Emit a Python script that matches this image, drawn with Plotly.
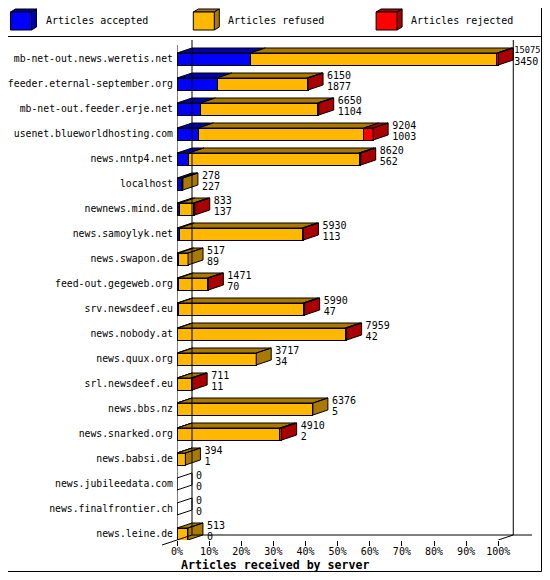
import plotly.graph_objects as go

# innreport style "articles received by server" chart
servers = [
    "mb-net-out.news.weretis.net", "feeder.eternal-september.org",
    "mb-net-out.feeder.erje.net", "usenet.blueworldhosting.com",
    "news.nntp4.net", "localhost", "newnews.mind.de", "news.samoylyk.net",
    "news.swapon.de", "feed-out.gegeweb.org", "srv.newsdeef.eu",
    "news.nobody.at", "news.quux.org", "srl.newsdeef.eu", "news.bbs.nz",
    "news.snarked.org", "news.babsi.de", "news.jubileedata.com",
    "news.finalfrontier.ch", "news.leine.de",
]
offered = [15075, 6150, 6650, 9204, 8620, 278, 833, 5930, 517, 1471,
           5990, 7959, 3717, 711, 6376, 4910, 394, 0, 0, 513]
accepted = [3450, 1877, 1104, 1003, 562, 227, 137, 113, 89, 70,
            47, 42, 34, 11, 5, 2, 1, 0, 0, 0]
# refused / rejected
refused = [11565, 4223, 5496, 7761, 7978, 51, 636, 5767, 428, 1361,
           5873, 7857, 3683, 655, 6371, 4828, 393, 0, 0, 513]
rejected = [60, 50, 50, 440, 80, 0, 60, 50, 0, 40,
            70, 60, 0, 45, 0, 80, 0, 0, 0, 0]
tick_pct = [0, 10, 20, 30, 40, 50, 60, 70, 80, 90, 100]

series = [
    ("Articles accepted", accepted, "#0000ff", "#0000aa"),
    ("Articles refused", refused, "#ffb700", "#aa7a00"),
    ("Articles rejected", rejected, "#ff0000", "#aa0000"),
]

FONT = "DejaVu Sans Mono"
CHAR = 0.602                 # advance of the mono font, in em
OFF = 8                      # the page body margin pushes the figure 8px right/down
VIS_R = 540.5                # right end of what shows of the page
W, H = 550 - OFF, 580 - 2 * OFF   # keep the page from scrolling
L, R, T = 177 - OFF, 18, 40 - OFF
B = H - (540 - OFF)          # plot floor sits at y=540 on the page
XMAX = 110.5
n = len(servers)
px_x = (W - L - R) / XMAX          # pixels per percent
px_y = (H - T - B) / n             # pixels per row
DX = 15 / px_x                     # 3d depth
DY = 5 / px_y
HALF = 0.24
YBOT = n - 1 + HALF
YTOP = -0.76
rows = list(range(n))
biggest = max(offered)


def pct(v):
    return v * 100.0 / biggest


# page pixel -> paper coords
def xp(px):
    return (px - OFF - L) / (W - L - R)


def yp(py):
    return (H - B - (py - OFF)) / (H - T - B)


fig = go.Figure()

# front faces
for name, vals, color, dark in series:
    fig.add_trace(go.Bar(y=rows, x=[pct(v) for v in vals], orientation="h",
                         width=2 * HALF, name=name, showlegend=False,
                         marker=dict(color=color, line=dict(color="black", width=1)),
                         hoverinfo="skip"))

# top and side faces of the 3d bars
faces = {}
for i in rows:
    left = 0.0
    last = None
    top = i - HALF
    bot = i + HALF
    for name, vals, color, dark in series:
        w = pct(vals[i])
        if w <= 0:
            continue
        right = left + w
        xs, ys = faces.setdefault(dark, ([], []))
        xs += [left, right, right + DX, left + DX, left, None]
        ys += [top, top, top - DY, top - DY, top, None]
        left = right
        last = dark
    xs, ys = faces.setdefault(last or "white", ([], []))
    xs += [left, left + DX, left + DX, left, left, None]
    ys += [top, top - DY, bot - DY, bot, top, None]

for color, (xs, ys) in faces.items():
    fig.add_trace(go.Scatter(x=xs, y=ys, mode="lines", fill="toself",
                             fillcolor=color, line=dict(color="black", width=1),
                             showlegend=False, hoverinfo="skip"))

# value labels: offered on top, accepted below
# (a label that would run off the visible page is tucked in and shrunk)
label_x, top_size = [], []
for v in offered:
    start = OFF + L + (pct(v) + DX) * px_x + 4
    size = 10
    if start + len(str(v)) * CHAR * size > VIS_R:
        start -= 3
        size = (VIS_R - start) / (len(str(v)) * CHAR)
    label_x.append((start - OFF - L) / px_x)
    top_size.append(size)

fig.add_trace(go.Scatter(x=label_x, y=[i - 0.32 for i in rows], text=[str(v) for v in offered],
                         mode="text", textposition="middle right", cliponaxis=False,
                         textfont=dict(family=FONT, size=top_size, color="black"),
                         showlegend=False, hoverinfo="skip"))
fig.add_trace(go.Scatter(x=label_x, y=[i + 0.12 for i in rows], text=[str(v) for v in accepted],
                         mode="text", textposition="middle right", cliponaxis=False,
                         textfont=dict(family=FONT, size=10, color="black"),
                         showlegend=False, hoverinfo="skip"))

shapes = []
line = dict(color="black", width=1)
# 3d frame
shapes.append(dict(type="line", xref="x", yref="y", x0=0, x1=0, y0=YTOP + DY, y1=YBOT, line=line))
shapes.append(dict(type="line", xref="x", yref="y", x0=DX, x1=DX, y0=YTOP, y1=YBOT - DY, line=line))
shapes.append(dict(type="line", xref="x", yref="y", x0=100 + DX, x1=100 + DX, y0=YTOP, y1=YBOT - DY, line=line))
shapes.append(dict(type="line", xref="x", yref="y", x0=DX, x1=XMAX, y0=YBOT - DY, y1=YBOT - DY, line=line))
shapes.append(dict(type="line", xref="x", yref="y", x0=100, x1=100 + DX, y0=YBOT, y1=YBOT - DY, line=line))
shapes.append(dict(type="line", xref="paper", yref="paper", x0=-DX / XMAX, x1=DX / XMAX,
                   y0=-DY / n, y1=DY / n, line=line))

# outer frame (as far as the page shows it) and legend separator
shapes.append(dict(type="rect", xref="paper", yref="paper", x0=xp(0.5), x1=xp(VIS_R + 1),
                   y0=yp(0.5), y1=yp(OFF + H - 0.5), line=line))
shapes.append(dict(type="line", xref="paper", yref="paper", x0=xp(0), x1=xp(550),
                   y0=yp(36.5), y1=yp(36.5), line=line))


def pt(a, b):
    return "%f,%f" % (xp(a), yp(b))


annotations = []
# legend with little cubes
for k, (name, vals, color, dark) in enumerate(series):
    x0 = 10.5 + k * 182.8
    fx0, fx1 = x0, x0 + 21
    fy0, fy1 = 12, 30
    shapes.append(dict(type="path", xref="paper", yref="paper", fillcolor=dark, line=line,
                       path="M%s L%s L%s L%s Z" % (pt(fx0, fy0), pt(fx0 + 5, fy0 - 3),
                                                   pt(fx1 + 5, fy0 - 3), pt(fx1, fy0))))
    shapes.append(dict(type="path", xref="paper", yref="paper", fillcolor=dark, line=line,
                       path="M%s L%s L%s L%s Z" % (pt(fx1, fy0), pt(fx1 + 5, fy0 - 3),
                                                   pt(fx1 + 5, fy1 - 3), pt(fx1, fy1))))
    shapes.append(dict(type="rect", xref="paper", yref="paper", fillcolor=color, line=line,
                       x0=xp(fx0), x1=xp(fx1), y0=yp(fy0), y1=yp(fy1)))
    annotations.append(dict(xref="paper", yref="paper", x=xp(x0 + 33), y=yp(21),
                            xanchor="left", yanchor="middle", showarrow=False, text=name,
                            font=dict(family=FONT, size=10, color="black")))

annotations.append(dict(xref="paper", yref="paper", x=xp(275), y=yp(565),
                        xanchor="center", yanchor="middle", showarrow=False,
                        text="Articles received by server",
                        font=dict(family=FONT, size=11.6, color="black", weight="bold")))

fig.update_layout(
    width=W, height=H, autosize=False,
    margin=dict(l=L, r=R, t=T, b=B, pad=0, autoexpand=False),
    paper_bgcolor="white", plot_bgcolor="white",
    barmode="stack", showlegend=False,
    shapes=shapes, annotations=annotations,
    font=dict(family=FONT, size=10, color="black"),
)
fig.update_xaxes(range=[0, XMAX], tickvals=tick_pct, ticktext=["%d%%" % t for t in tick_pct],
                 ticks="outside", ticklen=5, tickcolor="black", tickwidth=1,
                 showgrid=False, zeroline=False, showline=False, automargin=False,
                 ticklabelstandoff=-3,
                 tickfont=dict(family=FONT, size=10, color="black"))
fig.update_yaxes(range=[YBOT, YTOP], tickvals=rows, ticktext=servers, ticks="",
                 showgrid=False, zeroline=False, showline=False, automargin=False,
                 ticklabelstandoff=3,
                 tickfont=dict(family=FONT, size=9.8, color="black"))

fig.write_html("out.html")
